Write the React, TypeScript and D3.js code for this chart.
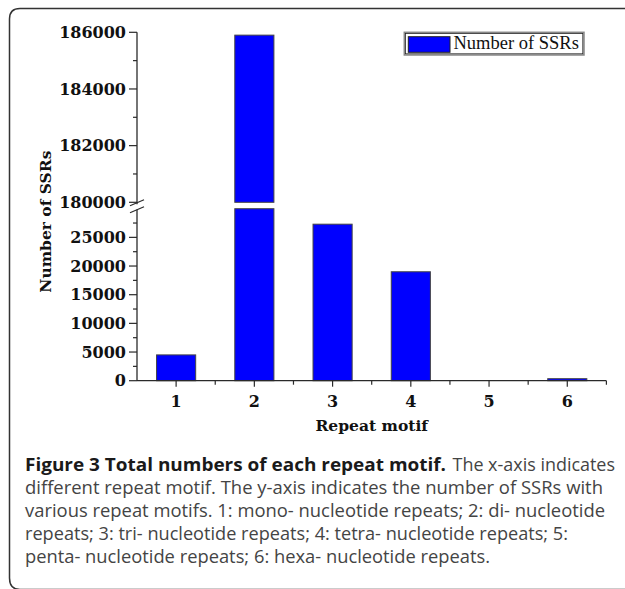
import React from "react";
import * as d3 from "d3";

const categories = [1, 2, 3, 4, 5, 6];
const values = [4500, 185900, 27300, 19000, 0, 350];
const seriesName = "Number of SSRs";
const lowTicks = [0, 5000, 10000, 15000, 20000, 25000];
const lowMinorTicks = [2500, 7500, 12500, 17500, 22500, 27500];
const highTicks = [180000, 182000, 184000, 186000];
const highMinorTicks = [181000, 183000, 185000];
const xMinorTicks = [1.5, 2.5, 3.5, 4.5, 5.5, 6.5];
const breakLow = 30000;
const breakHigh = 180000;
const yTitle = "Number of SSRs";
const xTitle = "Repeat motif";
const captionBold = "Figure 3 Total numbers of each repeat motif.";
const captionLines = [
  "The x-axis indicates",
  "different repeat motif. The y-axis indicates the number of SSRs with",
  "various repeat motifs. 1: mono- nucleotide repeats; 2: di- nucleotide",
  "repeats; 3: tri- nucleotide repeats; 4: tetra- nucleotide repeats; 5:",
  "penta- nucleotide repeats; 6: hexa- nucleotide repeats.",
];

const W = 625;
const H = 589;
const AX = "#2a2a2a";
const serif = "'DejaVu Serif', serif";

export default function App() {
  const x = d3.scaleLinear().domain([0.5, 6.5]).range([137, 606.4]);
  const yLow = d3.scaleLinear().domain([0, breakLow]).range([380.7, 208.7]);
  const yHigh = d3.scaleLinear().domain([breakHigh, 186000]).range([202.3, 32.3]);
  const bw = (x(1) - x(0.5)) * 1.0;
  const axX = x(0.5);
  const y0 = yLow(0);
  const yb = yHigh(breakHigh);

  const bars: React.ReactNode[] = [];
  categories.forEach((c, i) => {
    const v = values[i];
    if (v <= 0) return;
    const left = x(c) - bw / 2;
    if (v > breakHigh) {
      bars.push(
        <rect key={`l${i}`} x={left} y={yLow(breakLow)} width={bw} height={y0 - yLow(breakLow)} fill="#0000ff" stroke="#444" strokeWidth={1} />
      );
      bars.push(
        <rect key={`h${i}`} x={left} y={yHigh(v)} width={bw} height={yb - yHigh(v)} fill="#0000ff" stroke="#444" strokeWidth={1} />
      );
    } else {
      bars.push(
        <rect key={`b${i}`} x={left} y={yLow(v)} width={bw} height={Math.max(0.5, y0 - yLow(v))} fill="#0000ff" stroke="#444" strokeWidth={1} />
      );
    }
  });

  const captionX = 25;
  const baselines = [470.5, 493.5, 516.5, 539.5, 562.5];
  const lineEnds = [615, 603, 605, 568, 490];

  return (
    <svg width={W} height={H} style={{ position: "absolute", left: 0, top: 0, display: "block", background: "#fff" }}>
      {/* frame */}
      <path d="M 626 8.5 L 20 8.5 Q 9.5 8.5 9.5 19 L 9.5 578 Q 9.5 589.5 20 589.5 L 626 589.5" fill="none" stroke="#333" strokeWidth={1.5} />

      {bars}

      {/* x axis */}
      <line x1={axX} x2={x(6.5)} y1={y0} y2={y0} stroke={AX} strokeWidth={1.3} />
      {categories.map((c) => (
        <g key={`xt${c}`}>
          <line x1={x(c)} x2={x(c)} y1={y0} y2={y0 + 6} stroke={AX} strokeWidth={1.2} />
          <text x={x(c)} y={406.5} textAnchor="middle" fontFamily={serif} fontWeight="bold" fontSize={16} fill="#111">
            {c}
          </text>
        </g>
      ))}
      {xMinorTicks.map((t) => (
        <line key={`xm${t}`} x1={x(t)} x2={x(t)} y1={y0} y2={y0 + 4} stroke={AX} strokeWidth={1.2} />
      ))}
      <text x={(x(0.5) + x(6.5)) / 2} y={431} textAnchor="middle" fontFamily={serif} fontWeight="bold" fontSize={15.5} fill="#111">
        {xTitle}
      </text>

      {/* y axis lower */}
      <line x1={axX} x2={axX} y1={y0} y2={209.5} stroke={AX} strokeWidth={1.3} />
      {lowTicks.map((t) => (
        <g key={`yl${t}`}>
          <line x1={axX - 8} x2={axX} y1={yLow(t)} y2={yLow(t)} stroke={AX} strokeWidth={1.2} />
          <text x={126} y={yLow(t)} dy="0.36em" textAnchor="end" fontFamily={serif} fontWeight="bold" fontSize={16} fill="#111">
            {t}
          </text>
        </g>
      ))}
      {lowMinorTicks.map((t) => (
        <line key={`ylm${t}`} x1={axX - 4} x2={axX} y1={yLow(t)} y2={yLow(t)} stroke={AX} strokeWidth={1.2} />
      ))}

      {/* y axis upper */}
      <line x1={axX} x2={axX} y1={yHigh(186000)} y2={yb + 2} stroke={AX} strokeWidth={1.3} />
      {highTicks.map((t) => (
        <g key={`yh${t}`}>
          <line x1={axX - 8} x2={axX} y1={yHigh(t)} y2={yHigh(t)} stroke={AX} strokeWidth={1.2} />
          <text x={126} y={yHigh(t)} dy="0.36em" textAnchor="end" fontFamily={serif} fontWeight="bold" fontSize={16} fill="#111">
            {t}
          </text>
        </g>
      ))}
      {highMinorTicks.map((t) => (
        <line key={`yhm${t}`} x1={axX - 4} x2={axX} y1={yHigh(t)} y2={yHigh(t)} stroke={AX} strokeWidth={1.2} />
      ))}

      {/* break marks */}
      <line x1={axX - 7} x2={axX + 7} y1={yb + 3.5} y2={yb - 2.5} stroke={AX} strokeWidth={1.2} />
      <line x1={axX - 7} x2={axX + 7} y1={yb + 10.5} y2={yb + 4.5} stroke={AX} strokeWidth={1.2} />

      {/* y title */}
      <text transform="translate(51, 221.7) rotate(-90)" textAnchor="middle" fontFamily={serif} fontWeight="bold" fontSize={15.5} fill="#111">
        {yTitle}
      </text>

      {/* legend */}
      <rect x={404.3} y={32.3} width={179.7} height={22.7} fill="#fff" stroke="#888" strokeWidth={1.5} />
      <rect x={405.5} y={33.5} width={177.3} height={20.3} fill="none" stroke="#222" strokeWidth={0.8} />
      <rect x={408.3} y={36.7} width={41.7} height={15.6} fill="#0000ff" stroke="#222" strokeWidth={1} />
      <text x={453.5} y={49} fontFamily="'Liberation Serif', serif" fontSize={18.5} fill="#111">
        {seriesName}
      </text>

      {/* caption */}
      <text x={captionX} y={baselines[0]} fontFamily="'Open Sans', sans-serif" fontWeight="bold" fontSize={18.5} fill="#1a1a1a" textLength={446 - captionX} lengthAdjust="spacingAndGlyphs">
        {captionBold}
      </text>
      <text x={452.5} y={baselines[0]} fontFamily="'Open Sans', sans-serif" fontSize={18.5} fill="#444" textLength={lineEnds[0] - 452.5} lengthAdjust="spacingAndGlyphs">
        {captionLines[0]}
      </text>
      {captionLines.slice(1).map((ln, i) => (
        <text key={`c${i}`} x={captionX} y={baselines[i + 1]} fontFamily="'Open Sans', sans-serif" fontSize={18.5} fill="#444" textLength={lineEnds[i + 1] - captionX} lengthAdjust="spacingAndGlyphs">
          {ln}
        </text>
      ))}
    </svg>
  );
}
